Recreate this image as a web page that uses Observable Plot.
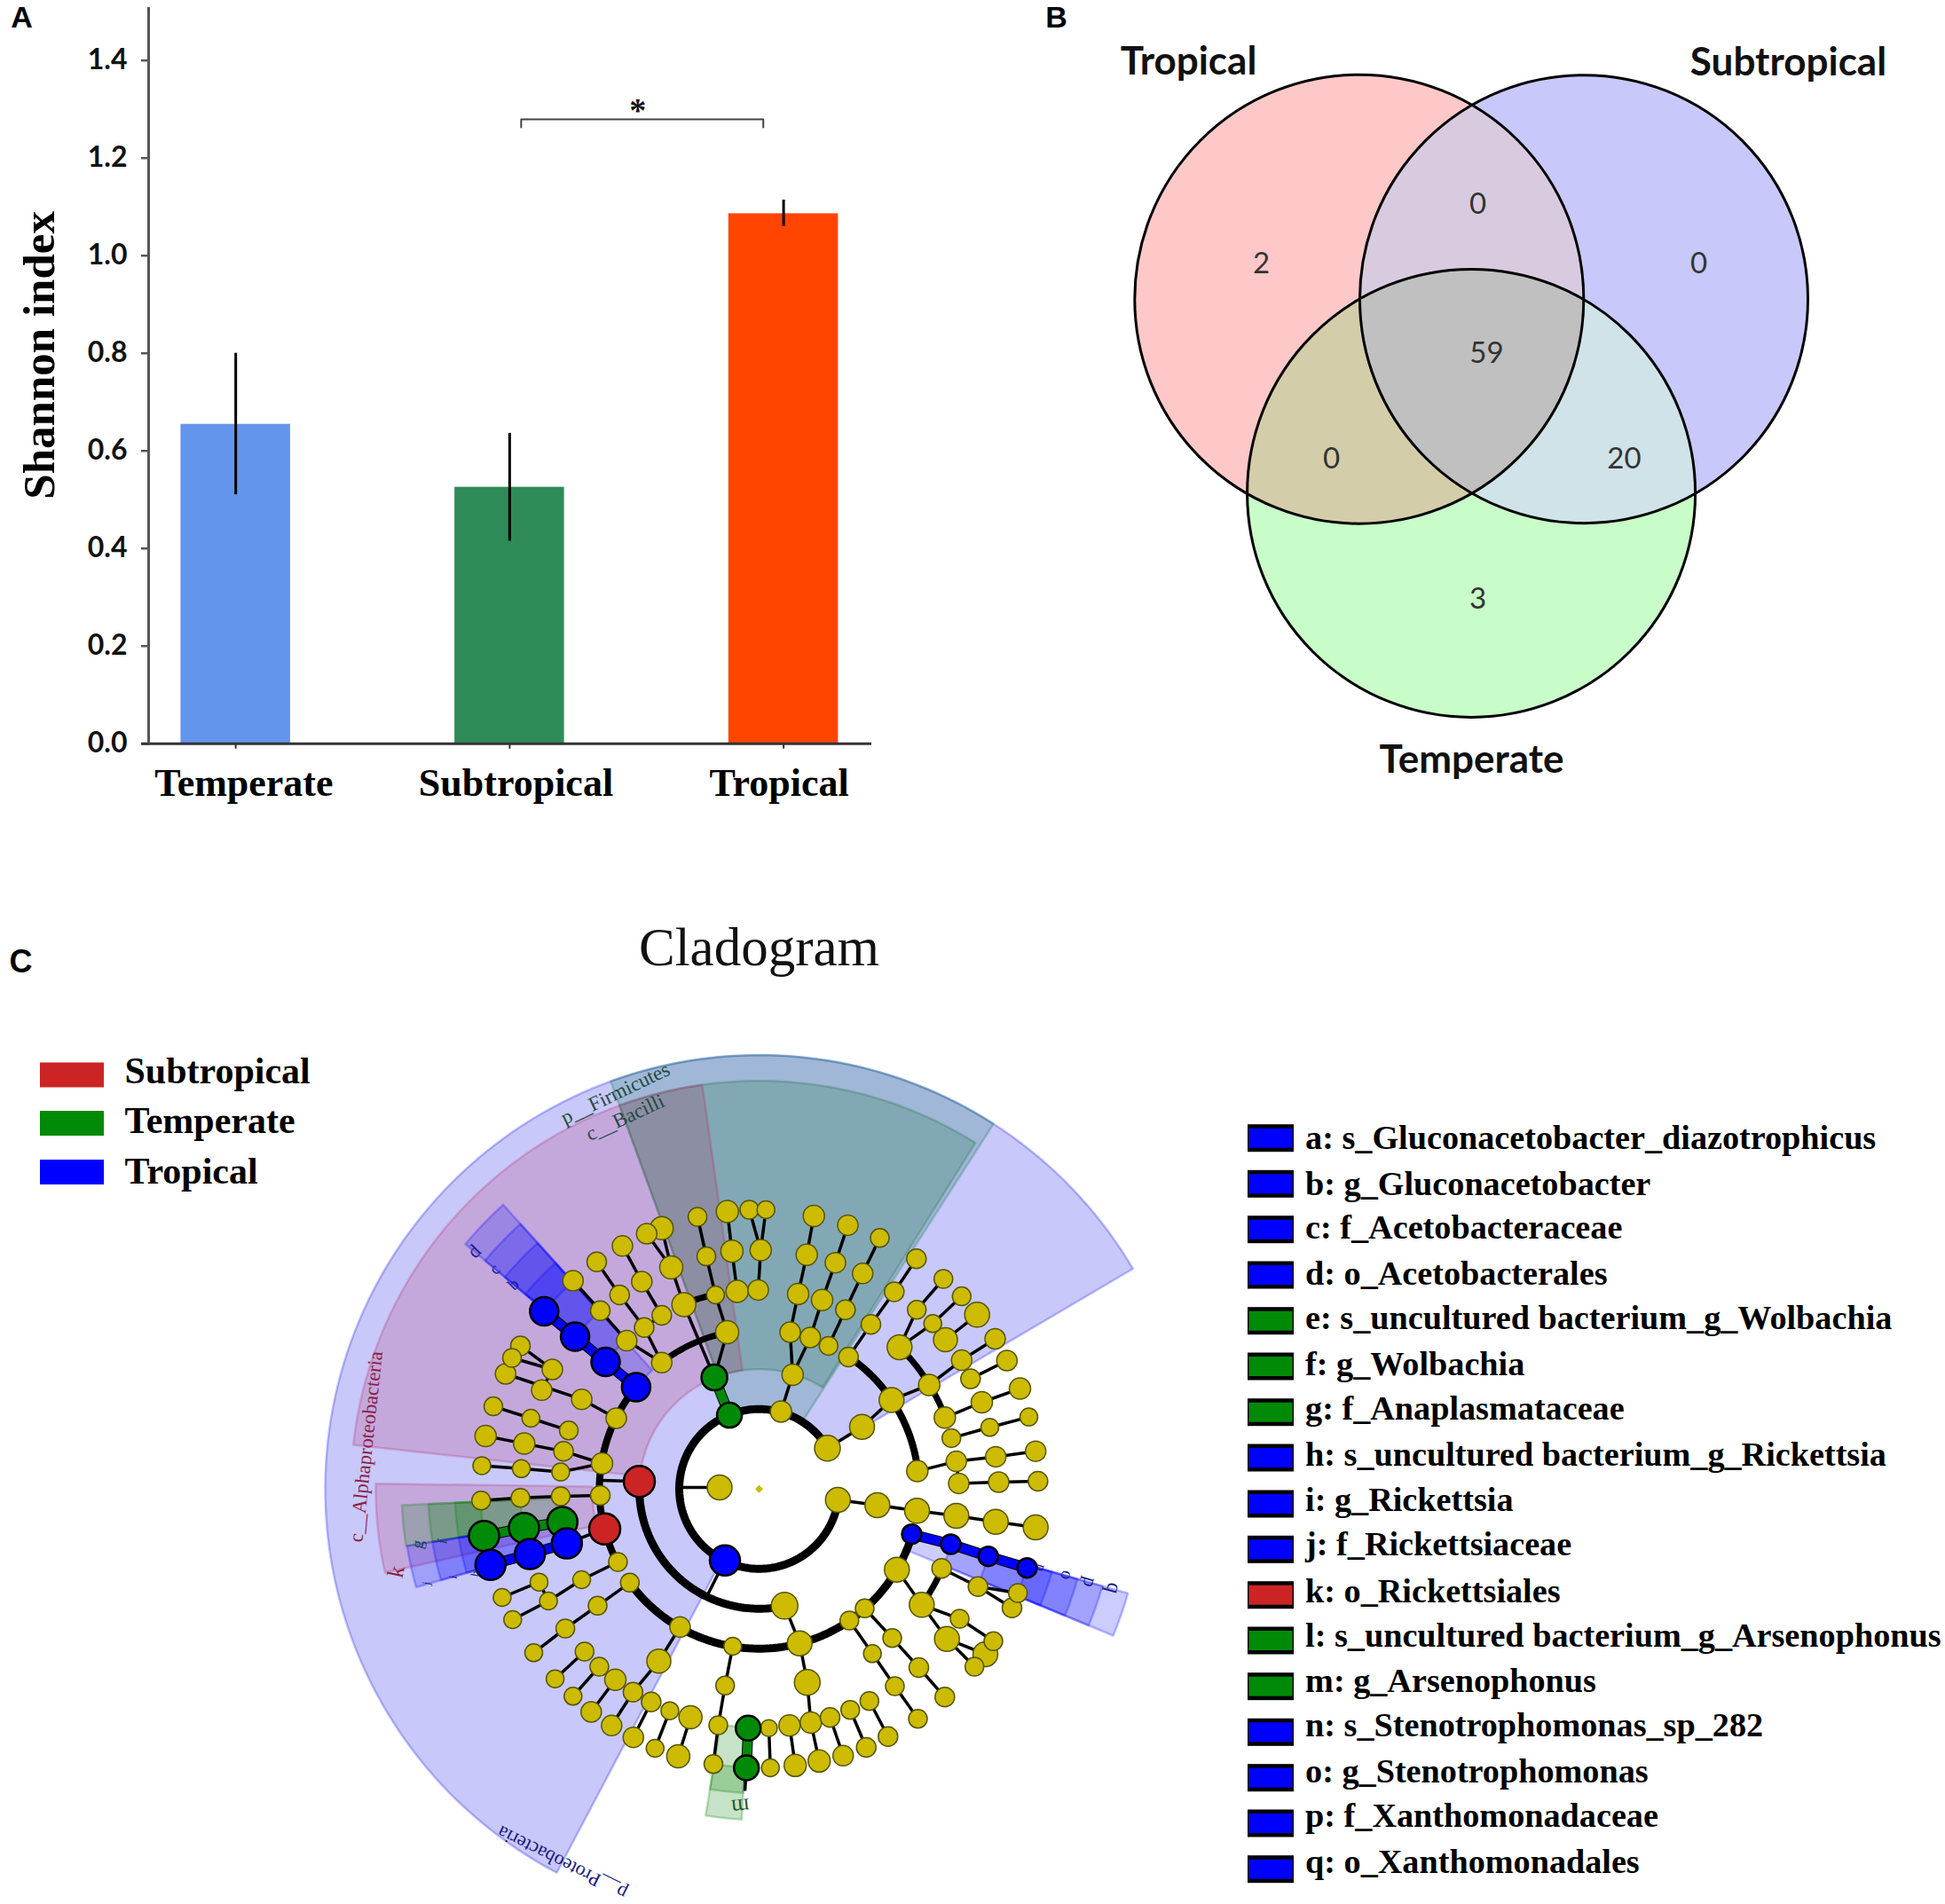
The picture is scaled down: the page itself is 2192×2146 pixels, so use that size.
<!DOCTYPE html>
<html>
<head>
<meta charset="utf-8">
<script src="https://cdn.jsdelivr.net/npm/d3@7"></script>
<script src="https://cdn.jsdelivr.net/npm/@observablehq/plot@0.6"></script>
<style>
html,body{margin:0;padding:0;background:#fff}
#page{position:relative;width:2192px;height:2146px;overflow:hidden;background:#fff}
#page svg{position:absolute;background:transparent;max-width:none}
</style>
</head>
<body>
<div id="page"></div>
<script>
const SERIF = "'Liberation Serif',serif";
const SANS = "'Liberation Sans',sans-serif";
const LATO = "Lato,'Open Sans',sans-serif";

/* ---------- Panel A ---------- */
const climates = ["Temperate", "Subtropical", "Tropical"];
const shannon = [0.6545, 0.5255, 1.086];
const errLow = [0.51, 0.415, 1.06];
const errHigh = [0.80, 0.636, 1.114];
const barColors = ["#6495ed", "#2e8b57", "#ff4500"];
const yTicks = [0, 0.2, 0.4, 0.6, 0.8, 1.0, 1.2, 1.4];
const xLabelAt = [0.03, 1.023, 1.984];
const bracketX = [1.042, 1.042, 1.926, 1.926];
const bracketY = [1.263, 1.2795, 1.2795, 1.263];

/* ---------- Panel B ---------- */
const vennSets = ["Tropical", "Subtropical", "Temperate"];
const vennCx = [1531.3, 1784.5, 1657.6];
const vennCy = [336.7, 336.7, 555.4];
const vennR = [253, 252.5, 252.5];
const vennLabelX = [1339, 2015, 1658];
const vennLabelY = [69, 70, 856];
const vennRegionColors = ["#ffffff", "#ffc8c8", "#c8c8fb", "#d8cbe0", "#c8fcc8", "#d3cdaa", "#cfe3e8", "#c0c0c0"];
const vennCounts = ["2", "0", "0", "59", "0", "20", "3"];
const vennCountX = [1421, 1665, 1914, 1675, 1500, 1830, 1665];
const vennCountY = [297, 230, 297, 398, 517, 517, 674.5];

/* ---------- Panel C: legends ---------- */
const groupNames = ["Subtropical", "Temperate", "Tropical"];
const groupColors = ["#cc2424", "#008a08", "#0000ff"];
const groupRowY = [1211.5, 1266, 1321];
const groupTextY = [1207.5, 1263.5, 1320.5];
const featureNames = [
  "a: s_Gluconacetobacter_diazotrophicus", "b: g_Gluconacetobacter", "c: f_Acetobacteraceae",
  "d: o_Acetobacterales", "e: s_uncultured bacterium_g_Wolbachia", "f: g_Wolbachia",
  "g: f_Anaplasmataceae", "h: s_uncultured bacterium_g_Rickettsia", "i: g_Rickettsia",
  "j: f_Rickettsiaceae", "k: o_Rickettsiales", "l: s_uncultured bacterium_g_Arsenophonus",
  "m: g_Arsenophonus", "n: s_Stenotrophomonas_sp_282", "o: g_Stenotrophomonas",
  "p: f_Xanthomonadaceae", "q: o_Xanthomonadales"
];
const featureGroup = [2, 2, 2, 2, 1, 1, 1, 2, 2, 2, 0, 1, 1, 2, 2, 2, 2];
const featureRowY = [1282.7, 1334.3, 1385.7, 1437, 1488.7, 1540, 1591.7, 1643, 1695, 1746.3, 1797.7, 1849, 1900.7, 1952.3, 2003.7, 2055, 2106.7];
const featureTextY = [1282, 1334, 1383.7, 1435.3, 1485.3, 1537, 1587.3, 1639, 1690.7, 1740.7, 1793, 1843, 1894.7, 1944.7, 1996.3, 2046.3, 2098];

/* ---------- Panel C: cladogram ---------- */
const centre = [855, 1677.7];
// wedges: inner radius, outer radius, start angle, end angle (degrees), colour, opacity
const wedges = [
  [92, 489, 30.5, 242.2, "rgb(0,0,232)", 0.216],
  [92, 489, 57.3, 110, "rgb(0,115,75)", 0.2],
  [135, 460, 58, 110, "rgb(15,108,45)", 0.2],
  [135, 460, 98, 173.8, "rgb(180,40,100)", 0.2],
  [188, 432, 179.2, 192.6, "rgb(180,40,100)", 0.2],
  [180, 431, 132, 140.2, "rgb(0,0,255)", 0.2],
  [225, 402, 132, 140.2, "rgb(0,0,255)", 0.2],
  [269, 373, 132, 140.2, "rgb(0,0,255)", 0.2],
  [314, 343, 132, 140.2, "rgb(0,0,255)", 0.2],
  [180, 432, -22.5, -15.8, "rgb(0,0,255)", 0.2],
  [225, 402, -22.5, -15.8, "rgb(0,0,255)", 0.2],
  [269, 373, -22.5, -15.8, "rgb(0,0,255)", 0.2],
  [314, 343, -22.5, -15.8, "rgb(0,0,255)", 0.2],
  [225, 403, 182.6, 189.2, "rgb(0,128,0)", 0.2],
  [269, 373, 182.6, 189.2, "rgb(0,128,0)", 0.2],
  [314, 343, 182.6, 189.2, "rgb(0,128,0)", 0.2],
  [225, 402, 189.2, 196, "rgb(0,0,255)", 0.2],
  [269, 373, 189.2, 196, "rgb(0,0,255)", 0.2],
  [314, 343, 189.2, 196, "rgb(0,0,255)", 0.2],
  [269, 373, 260.7, 267, "rgb(0,128,0)", 0.22],
  [314, 343, 260.7, 267, "rgb(0,128,0)", 0.22]
];
// thick arcs round the centre: radius, from angle, to angle, width
const thickArcs = [
  [90, 30.8, 352, 9],
  [135, 176.4, 282.3, 9],
  [180, 140.4, 207.4, 8],
  [180, 215.9, 343.5, 9],
  [180, 127.6, 101.5, 7],
  [180, 55.9, 6.4, 8],
  [225, 45.3, 21, 7],
  [225, -35.5, -23.5, 7],
  [225, 112.2, 102.7, 7]
];
// yellow branches: each run of [x, y, r] is joined by a thin line; r 0 is only a joint
const yellowBranches = [
  [[745.3,1535.3,11.5],[725.5,1495.7,11],[697.8,1459,11],[672,1421.7,11]],
  [[745.3,1535.3,0],[705.8,1510.6,11.5],[676,1476.8,11],[645.3,1443,11.5]],
  [[725.5,1495.7,0],[745.3,1482,11],[722.8,1444,11.5],[701,1403.8,11.5]],
  [[804.6,1552,0],[770.2,1470,13.5],[756,1428,13],[745.3,1383.8,13]],
  [[756,1428,0],[728.3,1390,11.5]],
  [[819,1501,13],[805.8,1459,10],[795.5,1415.5,10.5],[785.6,1371,10.5]],
  [[804.6,1552,0],[819,1501,0]],
  [[830.3,1455,12.5],[824.4,1409.7,12.5],[819.2,1365,12.5]],
  [[854,1453.4,11.5],[856.8,1408.6,12],[844,1363,10.5]],
  [[856.8,1408.6,0],[862.7,1363,10]],
  [[879.7,1590.4,12],[892.8,1549,12],[890,1501,11.5],[899,1457.9,12],[908.7,1413.8,12],[916.7,1370,12]],
  [[892.8,1549,0],[912.7,1507,11.5],[926,1464.8,12],[941,1422.7,11.5],[955,1380.4,11.5]],
  [[912.7,1507,0],[933.3,1516.4,10.5],[952.3,1475.8,11],[971.7,1434.8,11.5],[991,1394.8,10.5]],
  [[932,1631.8,14.5],[971,1607.7,14],[1004.3,1577.4,14],[1046.7,1560.5,12],[1083.3,1532.6,11.5],[1121,1508.5,11.5]],
  [[955.7,1529,11],[981,1492.3,11],[1007.3,1455.5,11],[1032.3,1418.3,11]],
  [[1013.3,1518,14],[1050.7,1491.3,10],[1083.3,1460.6,10.5]],
  [[1013.3,1518,0],[1032.7,1475.8,10.5],[1062.7,1441,10.5]],
  [[1065,1509.5,13.5],[1100.7,1481.3,14]],
  [[1064.3,1597.3,12],[1106,1580,12],[1149,1564.6,12]],
  [[1093.3,1553.6,11],[1134.3,1533,11.5]],
  [[1071.7,1620.4,10.5],[1115,1608.3,10],[1159,1596.6,10]],
  [[1033.3,1657.6,12],[1077.3,1646.6,11.5],[1121.7,1641.4,11.5],[1166.7,1635.2,11.5]],
  [[1077.3,1646.6,0],[1080,1671.4,11.5],[1125,1670,11.5],[1169.3,1669,11]],
  [[943.8,1690,14],[988.3,1696,14],[1033,1702.3,14],[1077.3,1708,14],[1121.7,1714.7,14],[1166.7,1721,14]],
  [[1010.3,1768.7,14],[1038.3,1808.3,14]],
  [[1060.7,1767.3,11],[1101.7,1787.7,11],[1146.7,1795,10.5]],
  [[1101.7,1787.7,0],[1140,1811.7,11]],
  [[1038.3,1808.3,0],[1081,1824,10.5],[1119,1849.3,10.5]],
  [[1038.3,1808.3,0],[1066.7,1846.7,14],[1110,1864,14]],
  [[1066.7,1846.7,0],[1097.7,1878,10.5]],
  [[974,1812.3,10.5],[1005,1845.7,10.5],[1035,1879,11],[1064.3,1912.3,11]],
  [[956.7,1826,10.5],[982.7,1863.3,10],[1008,1900,10.5],[1034,1936.7,10.5]],
  [[883.7,1809.3,15],[900.7,1851.7,14],[909.3,1895.7,14.5],[913.3,1941,12],[922.7,1984.3,12.5]],
  [[866,1947.3,9.5],[867.7,1992,10]],
  [[889.3,1944.3,12],[895.7,1989.3,12.5]],
  [[935,1935.3,11],[949.7,1978.3,11.5]],
  [[957.7,1926.7,10.5],[975.7,1969,11]],
  [[979.3,1916.7,10.5],[1000.3,1956.7,11]],
  [[825.3,1855,10],[816.7,1899.3,10.5],[809,1944,10.5],[803.5,1987.7,10.5]],
  [[765.9,1833.3,11.5],[742,1871.7,13.5],[712.9,1906.7,11]],
  [[777.7,1935,13],[763.9,1979,13]],
  [[754.4,1927.7,10],[737.8,1970,10]],
  [[733.4,1917.7,11],[713.3,1957.7,11.5]],
  [[712.9,1906.7,0],[688.8,1944.3,11.5]],
  [[693,1892.7,12],[665.8,1929,11.5]],
  [[674.9,1878,10.5],[645.3,1911.3,10]],
  [[658.3,1861,10.5],[625.1,1891.7,10]],
  [[709.3,1783.3,10.5],[673,1809.3,10.5],[636.6,1835,10.5],[601,1862.3,10]],
  [[695.9,1760,10.5],[655,1780,10],[617.6,1804,10],[577.3,1825,10]],
  [[607,1782.7,10],[565.4,1800,10]],
  [[617.6,1804,0],[607,1782.7,0]],
  [[676,1685,11],[631.4,1686,10.5],[586,1687.7,10.5],[541.7,1690.7,10.5]],
  [[678,1649,12],[634.6,1635.2,11],[590.3,1626.6,12],[546.8,1618,12]],
  [[678,1649,0],[631.4,1658.6,10],[587,1654.8,10],[542.5,1651.4,10]],
  [[694,1598,11.5],[655.1,1576.7,11.5],[569.3,1548,11.5]],
  [[622,1543,11.5],[586,1516.4,11]],
  [[622,1543,0],[576.5,1530,10.5]],
  [[610,1566.3,11.5],[622,1543,0]],
  [[640.5,1611.8,10.5],[597.8,1598,10],[555.5,1584.6,10.5]],
  [[810.5,1676,14],[765,1676,0]],
  [[720,1669.3,0],[677,1668,0]],
  [[681,1722.7,0],[638.3,1739,0]],
  [[816.5,1758.3,0],[797,1797,0]],
  [[840.7,1992,0],[839,2018,0]]
];
// coloured chains: colour index into groupColors, nodes [x, y, r]
const colouredChains = [
  [2, [[716.4,1563,16],[682,1534.6,16],[647.6,1506,16],[612.8,1477.5,16]]],
  [2, [[1027,1728.7,11],[1071,1740,11],[1113.3,1753.7,11],[1157,1766.7,11]]],
  [1, [[633.3,1715,17],[590,1721.7,17],[545,1730.7,17]]],
  [2, [[638.3,1739,17],[596.7,1751,17],[552.3,1763.3,17]]],
  [1, [[821.6,1594.6,14],[804.6,1552,14.5]]],
  [1, [[842.7,1947.3,14],[840.7,1992,14]]]
];
const soloNodes = [
  [720, 1669.3, 17.5, 0], [681, 1722.7, 17.5, 0], [816.5, 1758.3, 17, 2]
];
const cladeNames = ["p__Firmicutes", "c__Bacilli", "c__Alphaproteobacteria", "p__Proteobacteria", "k", "m",
  "d", "c", "b", "n", "o", "p", "q", "g", "f", "j", "i", "h"];
const cladeX = [693, 704, 412, 633, 446, 834, 534, 557, 578, 1173, 1202, 1228, 1255, 470, 498, 480, 510, 535];
const cladeY = [1232, 1259, 1630, 2099, 1771, 2036, 1410, 1430, 1447, 1767, 1775, 1783, 1790, 1740, 1737, 1784, 1777, 1773];
const cladeRotate = [-25.5, -25, -84, 206.5, -78, 175, -45, -45, -45, 106, 106, 106, 106, -80, -80, -80, -80, -80];
const cladeSize = [23, 23, 22.5, 22, 26, 26, 22, 19, 19, 16, 20, 22, 24, 19, 15, 13, 13, 13];
const cladeColor = ["#1f4a40", "#1f4a40", "#8a1f45", "#1a1a80", "#8a1f45", "#1e5a30", "#1a1a90", "#1a1a90", "#1a1a90",
  "#1a1a90", "#1a1a90", "#1a1a90", "#1a1a90", "#1e3a5a", "#1e3a5a", "#1a1a90", "#1a1a90", "#1a1a90"];

/* ---------- helpers ---------- */
const idx = a => a.map((_, i) => i);
const polar = (r, deg) => {
  const t = deg * Math.PI / 180;
  return {x: centre[0] + r * Math.cos(t), y: centre[1] - r * Math.sin(t)};
};
const sweep = (r, a0, a1) => {
  const n = Math.max(2, Math.ceil(Math.abs(a1 - a0) / 1.5));
  return d3.range(n + 1).map(i => polar(r, a0 + (a1 - a0) * i / n));
};
const wedgeRing = ([r0, r1, a0, a1]) => {
  const pts = [...sweep(r1, a0, a1), ...sweep(r0, a1, a0)];
  pts.push(pts[0]);
  return pts;
};
const pairs = chain => chain.slice(1).map((p, i) => ({x1: chain[i][0], y1: chain[i][1], x2: p[0], y2: p[1]}));
const asNodes = chain => chain.filter(n => n[2] > 0).map(n => ({x: n[0], y: n[1], r: n[2]}));

/* ---------- Panel A plot ---------- */
const aRows = climates.map((name, i) => ({
  i, name, value: shannon[i], low: errLow[i], high: errHigh[i], color: barColors[i], lx: xLabelAt[i]
}));
const plotA = Plot.plot({
  width: 1050, height: 960,
  marginLeft: 167, marginRight: 68, marginTop: 8, marginBottom: 122.3,
  x: {domain: [-0.318, 2.322], axis: null},
  y: {domain: [0, 1.5085], axis: null},
  marks: [
    Plot.rectY(aRows, {x1: d => d.i - 0.2, x2: d => d.i + 0.2, y1: 0, y2: "value", fill: "color"}),
    Plot.ruleX(aRows, {x: "i", y1: "low", y2: "high", stroke: "#000", strokeWidth: 3}),
    Plot.axisY({ticks: yTicks, tickFormat: d3.format(".1f"), tickSize: 8, tickPadding: 16, label: null,
      fontFamily: LATO, fontWeight: 700, fontSize: 32, stroke: "#555", strokeWidth: 2.5, fill: "#111"}),
    Plot.axisX({ticks: [0, 1, 2], tickFormat: () => "", tickSize: 6, label: null, stroke: "#333", strokeWidth: 2}),
    Plot.ruleY([0], {x1: -0.343, x2: 2.322, stroke: "#333", strokeWidth: 3}),
    Plot.ruleX([-0.318], {y1: 0, y2: 1.5085, stroke: "#555", strokeWidth: 3}),
    Plot.line(bracketX.map((x, i) => ({x, y: bracketY[i]})), {x: "x", y: "y", stroke: "#444", strokeWidth: 2}),
    Plot.text(["*"], {x: 1.468, y: 1.3, text: d => d, dy: 2, fontFamily: SERIF, fontWeight: 700, fontSize: 38, fill: "#111"}),
    Plot.text(aRows, {x: "lx", y: 0, text: "name", dy: 45, fontFamily: SERIF, fontWeight: 700, fontSize: 44, fill: "#000"}),
    Plot.text(["Shannon index"], {x: -0.318, y: 0.796, text: d => d, rotate: -90, dx: -123, fontFamily: SERIF, fontWeight: 700, fontSize: 51, fill: "#000"}),
    Plot.text(["A"], {x: -0.318, y: 1.5085, text: d => d, dx: -143, dy: 12, fontFamily: SANS, fontWeight: 700, fontSize: 34, fill: "#000"})
  ]
});

/* ---------- Panel B plot ---------- */
const inCircle = (i, x, y) => (x - vennCx[i]) ** 2 + (y - vennCy[i]) ** 2 <= vennR[i] ** 2;
const plotB = Plot.plot({
  width: 1042, height: 900, margin: 0,
  x: {domain: [1150, 2192], axis: null},
  y: {domain: [900, 0], axis: null},
  r: {type: "identity"},
  color: {type: "ordinal", domain: d3.range(8), range: vennRegionColors},
  marks: [
    Plot.raster({
      x1: 1150, x2: 2192, y1: 0, y2: 900, pixelSize: 1,
      fill: (x, y) => (inCircle(0, x, y) ? 1 : 0) + (inCircle(1, x, y) ? 2 : 0) + (inCircle(2, x, y) ? 4 : 0)
    }),
    Plot.dot(idx(vennSets), {x: i => vennCx[i], y: i => vennCy[i], r: i => vennR[i], stroke: "#000", strokeWidth: 3, fill: "none"}),
    Plot.text(idx(vennSets), {x: i => vennLabelX[i], y: i => vennLabelY[i], text: i => vennSets[i],
      fontFamily: LATO, fontWeight: 700, fontSize: 44, fill: "#111"}),
    Plot.text(idx(vennCounts), {x: i => vennCountX[i], y: i => vennCountY[i], text: i => vennCounts[i],
      fontFamily: LATO, fontSize: 33, fill: "#333"}),
    Plot.text(["B"], {x: 1190, y: 20, text: d => d, fontFamily: SANS, fontWeight: 700, fontSize: 34, fill: "#000"})
  ]
});

/* ---------- Panel C plot ---------- */
const linkMarks = yellowBranches.map(chain =>
  Plot.link(pairs(chain), {x1: "x1", y1: "y1", x2: "x2", y2: "y2", stroke: "#000", strokeWidth: 3.5}));
const colouredLinkMarks = colouredChains.flatMap(([g, chain]) => [
  Plot.link(pairs(chain), {x1: "x1", y1: "y1", x2: "x2", y2: "y2", stroke: "#000", strokeWidth: 12}),
  Plot.link(pairs(chain), {x1: "x1", y1: "y1", x2: "x2", y2: "y2", stroke: groupColors[g], strokeWidth: 10})
]);
const plotC = Plot.plot({
  width: 2192, height: 1126, margin: 0,
  x: {domain: [0, 2192], axis: null},
  y: {domain: [2146, 1020], axis: null},
  r: {type: "identity"},
  marks: [
    Plot.text(["C"], {x: 23, y: 1084, text: d => d, fontFamily: SANS, fontWeight: 700, fontSize: 36, fill: "#000"}),
    Plot.text(["Cladogram"], {x: 855, y: 1068, text: d => d, fontFamily: SERIF, fontSize: 61, fill: "#111"}),

    ...wedges.map(w => Plot.line(wedgeRing(w), {x: "x", y: "y", fill: w[4], fillOpacity: w[5], stroke: w[4], strokeOpacity: 0.25, strokeWidth: 2.5})),
    ...thickArcs.map(([r, a0, a1, w]) => Plot.line(sweep(r, a0, a1), {x: "x", y: "y", stroke: "#000", strokeWidth: w, strokeLinecap: "butt"})),
    ...linkMarks,
    ...colouredLinkMarks,

    Plot.dot(yellowBranches.flatMap(asNodes), {x: "x", y: "y", r: "r", fill: "#ccbb00", stroke: "#555500", strokeWidth: 1.5}),
    Plot.dot([{x: centre[0], y: centre[1]}], {x: "x", y: "y", r: 4, symbol: "diamond2", fill: "#ccbb00"}),
    ...colouredChains.map(([g, chain]) => Plot.dot(asNodes(chain), {x: "x", y: "y", r: "r", fill: groupColors[g], stroke: "#000", strokeWidth: 2.5})),
    Plot.dot(soloNodes.map(n => ({x: n[0], y: n[1], r: n[2], g: n[3]})), {x: "x", y: "y", r: "r", fill: d => groupColors[d.g], stroke: "#000", strokeWidth: 2.5}),

    Plot.text(idx(cladeNames), {x: i => cladeX[i], y: i => cladeY[i], text: i => cladeNames[i], rotate: i => cladeRotate[i],
      fontSize: i => cladeSize[i], fill: i => cladeColor[i], fontFamily: SERIF}),

    Plot.rect(idx(groupNames), {x1: 45, x2: 117, y1: i => groupRowY[i] - 14, y2: i => groupRowY[i] + 14, fill: i => groupColors[i]}),
    Plot.text(idx(groupNames), {x: 140, y: i => groupTextY[i], text: i => groupNames[i], textAnchor: "start",
      fontFamily: SERIF, fontWeight: 700, fontSize: 42, fill: "#000"}),

    Plot.rect(idx(featureNames), {x1: 1406, x2: 1458, y1: i => featureRowY[i] - 15.5, y2: i => featureRowY[i] + 15.5, fill: "#000"}),
    Plot.rect(idx(featureNames), {x1: 1407.5, x2: 1456.5, y1: i => featureRowY[i] - 11, y2: i => featureRowY[i] + 11, fill: i => groupColors[featureGroup[i]]}),
    Plot.text(idx(featureNames), {x: 1470.6, y: i => featureTextY[i], text: i => featureNames[i], textAnchor: "start",
      fontFamily: SERIF, fontWeight: 700, fontSize: 38.2, fill: "#000"})
  ]
});

const page = document.getElementById("page");
plotA.style.left = "0px"; plotA.style.top = "0px";
plotB.style.left = "1150px"; plotB.style.top = "0px";
plotC.style.left = "0px"; plotC.style.top = "1020px";
page.append(plotA, plotB, plotC);
</script>
</body>
</html>
